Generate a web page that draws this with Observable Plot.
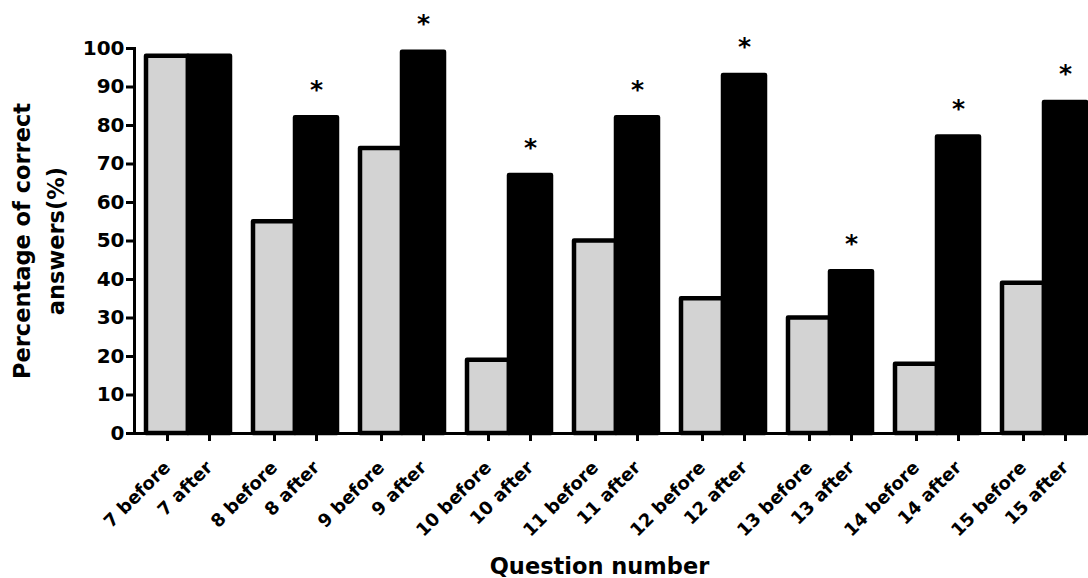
<!DOCTYPE html>
<html>
<head>
<meta charset="utf-8">
<script src="https://cdn.jsdelivr.net/npm/d3@7"></script>
<script src="https://cdn.jsdelivr.net/npm/@observablehq/plot@0.6"></script>
<style>
  html, body { margin: 0; padding: 0; background: #fff; }
  #chart svg { display: block; overflow: hidden; }
</style>
</head>
<body>
<div id="chart"></div>
<script>
// ---- data ----
const questions = ["7", "8", "9", "10", "11", "12", "13", "14", "15"];
const beforeValues = [98, 55, 74, 19, 50, 35, 30, 18, 39];
const afterValues  = [98, 82, 99, 67, 82, 93, 42, 77, 86];
const significant  = [false, true, true, true, true, true, true, true, true];
const phases = ["before", "after"];
const phaseColors = ["#d3d3d3", "#000000"];
const yTicks = [0, 10, 20, 30, 40, 50, 60, 70, 80, 90, 100];
const yTitle = "Percentage of correct\nanswers(%)";
const xTitle = "Question number";
const sigMark = "*";

const rows = questions.flatMap((q, i) => [
  {q, phase: "before", value: beforeValues[i], label: `${q} before`, sig: false},
  {q, phase: "after", value: afterValues[i], label: `${q} after`, sig: significant[i]}
]);

const chart = Plot.plot({
  width: 1088,
  height: 578,
  marginTop: 48,
  marginBottom: 145,
  marginLeft: 131,
  marginRight: 0,
  style: {fontFamily: "'DejaVu Sans', sans-serif", fontWeight: "bold", background: "#fff", color: "#000"},
  fx: {domain: questions, range: [131, 1099], padding: 0, axis: null, label: null},
  x: {domain: phases, paddingInner: 0, paddingOuter: 0.265, axis: null},
  y: {domain: [0, 100], axis: null},
  color: {domain: phases, range: phaseColors},
  marks: [
    Plot.barY(rows, {fx: "q", x: "phase", y: "value", fill: "phase", stroke: "#000", strokeWidth: 4.5, strokeLinejoin: "round"}),
    Plot.ruleY([0], {stroke: "#000", strokeWidth: 3}),
    Plot.frame({anchor: "left", facet: "super", stroke: "#000", strokeWidth: 3}),
    Plot.axisY({ticks: yTicks, tickSize: 8, tickPadding: 2, strokeWidth: 3, fontSize: 20, label: null}),
    Plot.axisX({tickSize: 8, strokeWidth: 3, tickFormat: () => "", label: null}),
    Plot.text(rows, {fx: "q", x: "phase", frameAnchor: "bottom", text: "label", rotate: -45, textAnchor: "end", dx: 4, dy: 35, fontSize: 18}),
    Plot.text(rows.filter(d => d.sig), {fx: "q", x: "phase", y: "value", text: () => sigMark, dy: -28, fontSize: 25}),
    Plot.text([yTitle], {facet: "super", frameAnchor: "left", rotate: -90, lineAnchor: "top", textAnchor: "middle", dx: -128, lineHeight: 1.5, fontSize: 22.5}),
    Plot.text([xTitle], {facet: "super", frameAnchor: "bottom", dx: -16.5, dy: 140, fontSize: 22.5})
  ]
});
document.getElementById("chart").appendChild(chart);
</script>
</body>
</html>
